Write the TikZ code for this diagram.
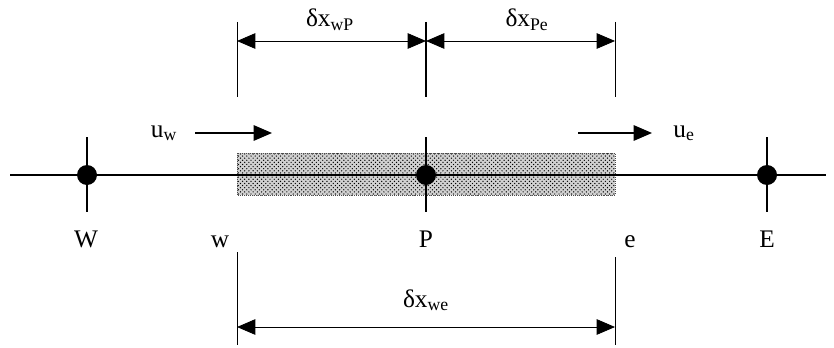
\documentclass[tikz,border=0pt]{standalone}
\usepackage{fontspec}
\setmainfont{Liberation Serif}
\usetikzlibrary{arrows.meta,patterns,calc}

\begin{document}
\begin{tikzpicture}[
    x=0.025cm,y=-0.025cm,
    dot/.style={circle,fill=black,minimum size=0.5cm,inner sep=0pt},
    lbl/.style={font=\fontsize{18}{21}\selectfont,inner sep=0pt,anchor=base},
    dim/.style={{Triangle[length=13pt,width=11pt]}-{Triangle[length=13pt,width=11pt]},line width=0.6pt},
    flow/.style={-{Triangle[length=13pt,width=11pt]},line width=0.9pt},
    face/.style={line width=0.5pt},
    tick/.style={line width=1pt},
    cv/.style={preaction={fill=black!18},pattern=crosshatch dots,pattern color=black,
               draw=black!70,densely dotted},
]
\useasboundingbox (0,0) rectangle (834,348);

% ---- control volume around P ----
\draw[cv] (237,153) rectangle (615,195);

% ---- grid line with nodes W, P, E ----
\coordinate (lend) at (10,175);
\coordinate (rend) at (826,175);
\draw[tick] (lend) -- (rend);

\node[dot] (W) at (87,175) {};
\node[dot] (P) at (426,175) {};
\node[dot] (E) at (767,175) {};
\foreach \n in {W,P,E}
  \draw[tick] ($(\n)+(0,-38)$) -- ($(\n)+(0,37)$);

% faces w and e
\coordinate (w) at (237,175);
\coordinate (e) at (615,175);
\draw[face] ($(w)+(0,-153)$) -- ($(w)+(0,-78)$);
\draw[face] ($(w)+(0,77)$) -- ($(w)+(0,170)$);
\draw[face] ($(e)+(0,-153)$) -- ($(e)+(0,-78)$);
\draw[face] ($(e)+(0,82)$) -- ($(e)+(0,170)$);
\draw[tick] ($(P)+(0,-153)$) -- ($(P)+(0,-78)$);

% ---- point labels ----
\node[lbl] (lW) at (86,247) {W};
\node[lbl] (lw) at (220,247) {w};
\node[lbl] (lP) at (426,247) {P};
\node[lbl] (le) at (630,247) {e};
\node[lbl] (lE) at (767,247) {E};

% ---- velocities at the faces ----
\node[lbl] (uw) at (164,137) {u\textsubscript{w}};
\coordinate (uwa) at (195,133);
\coordinate (uwb) at (272,133);
\draw[flow] (uwa) -- (uwb);
\node[lbl] (ue) at (684,137) {u\textsubscript{e}};
\coordinate (uea) at (578,133);
\coordinate (ueb) at (652,133);
\draw[flow] (uea) -- (ueb);

% ---- distances ----
\coordinate (wt) at (237,41);
\coordinate (Pt) at (426,41);
\coordinate (et) at (615,41);
\draw[dim] (wt) -- (Pt);
\draw[dim] (Pt) -- (et);
\node[lbl] (dwP) at (330,27) {δx\textsubscript{wP}};
\node[lbl] (dPe) at (527,27) {δx\textsubscript{Pe}};

\coordinate (wb) at (237,327);
\coordinate (eb) at (615,327);
\draw[dim] (wb) -- (eb);
\node[lbl] (dwe) at (426,307) {δx\textsubscript{we}};

\end{tikzpicture}
\end{document}
